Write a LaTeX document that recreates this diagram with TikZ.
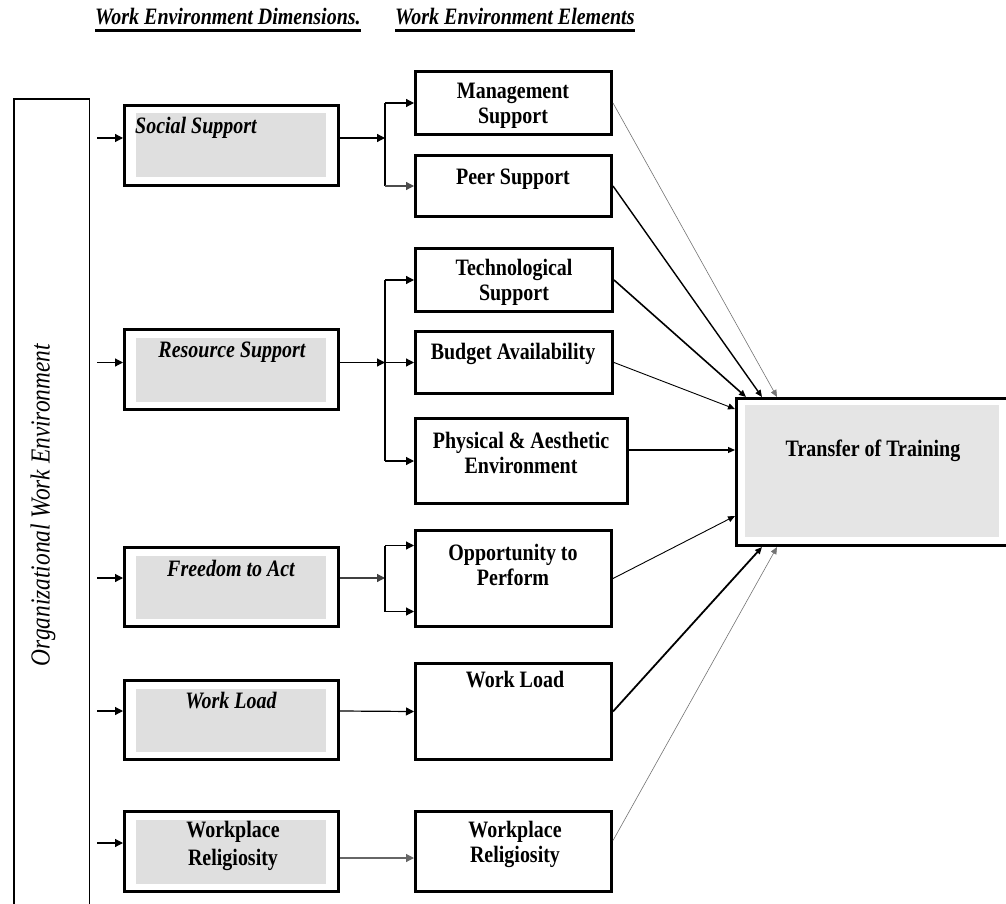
\documentclass[tikz,border=0pt]{standalone}
\usepackage{fontspec}
\setmainfont{Liberation Serif}[FakeStretch=0.85]
\usepackage{tikz}
\usetikzlibrary{arrows.meta}
\usetikzlibrary{calc}
\tikzset{
  txtfont/.style={font=\fontsize{23.5}{25}\selectfont\bfseries},
  dimbox/.style={draw, line width=3pt, minimum width=214pt,
    path picture={\fill[gray!25] ($(path picture bounding box.south west)+(11pt,8pt)$) rectangle ($(path picture bounding box.north east)-(13pt,8pt)$);}},
  elbox/.style={draw, line width=3pt},
  lbl/.style={txtfont, align=center, inner sep=0pt},
  dimlbl/.style={lbl, font=\fontsize{23.5}{25}\selectfont\bfseries\itshape},
  flow/.style={-{Triangle[length=8pt,width=8pt]}, line width=1.2pt},
  into/.style={-{Triangle[length=7pt,width=6pt]}},
}

\begin{document}
\begin{tikzpicture}[x=1pt, y=-1pt]
\useasboundingbox (0,0) rectangle (1006,904);
\node[anchor=base west, inner sep=0, font=\fontsize{23.5}{25}\selectfont\bfseries\itshape] (hdim) at (95,25) {Work Environment Dimensions.};
\node[anchor=base west, inner sep=0, font=\fontsize{23.5}{25}\selectfont\bfseries\itshape] (helem) at (395,25) {Work Environment Elements};
\draw[line width=2.5pt] ([yshift=-5.5pt]hdim.base west) -- ([yshift=-5.5pt]hdim.base east);
\draw[line width=2.5pt] ([yshift=-5.5pt]helem.base west) -- ([yshift=-5.5pt]helem.base east);

\node[draw, line width=1.5pt, minimum width=75.5pt, minimum height=830pt] (owe) at (51.5,514) {};
\node[rotate=90, font=\fontsize{27.5}{30}\selectfont\itshape] (owetxt) at (43,505) {Organizational Work Environment};

\node[dimbox, minimum height=80pt] (social) at (231.5,145.5) {};
\node[dimbox, minimum height=80pt] (resource) at (231.5,369.5) {};
\node[dimbox, minimum height=79pt] (freedom) at (231.5,587) {};
\node[dimbox, minimum height=79pt] (wload) at (231.5,720) {};
\node[dimbox, minimum height=80pt] (relig) at (231.5,851.5) {};

\node[dimlbl, anchor=west] (socialtxt) at (135,128) {Social Support};
\node[dimlbl] (restxt) at (232,352) {Resource Support};
\node[dimlbl] (frtxt) at (231,568) {Freedom to Act};
\node[dimlbl] (wltxt) at (231,701) {Work Load};
\node[lbl] (rltxt) at (233,846) {Workplace\\[3pt]Religiosity};

\node[elbox, minimum width=196pt, minimum height=63pt] (mgmt) at (513.5,103) {};
\node[elbox, minimum width=196pt, minimum height=61pt] (peer) at (513.5,186) {};
\node[elbox, minimum width=197pt, minimum height=63pt] (tech) at (514,280) {};
\node[elbox, minimum width=197pt, minimum height=62pt] (budget) at (514,362.5) {};
\node[elbox, minimum width=212pt, minimum height=85pt] (phys) at (521.5,461) {};
\node[elbox, minimum width=196pt, minimum height=96pt] (opp) at (513.5,578.5) {};
\node[elbox, minimum width=196pt, minimum height=96pt] (wlel) at (513.5,711.5) {};
\node[elbox, minimum width=196pt, minimum height=80pt] (relel) at (513.5,851.5) {};

\node[lbl] (mgmttxt) at (513,106) {Management\\Support};
\node[lbl] (peertxt) at (513,179) {Peer Support};
\node[lbl] (techtxt) at (514,282) {Technological\\Support};
\node[lbl] (budtxt) at (513,354) {Budget Availability};
\node[lbl] (phystxt) at (521,453) {Physical \& Aesthetic\\Environment};
\node[lbl] (opptxt) at (513,565) {Opportunity to\\Perform};
\node[lbl] (wletxt) at (515,680) {Work Load};
\node[lbl] (reletxt) at (515,844) {Workplace\\Religiosity};

\node[draw, line width=3pt, minimum width=274pt, minimum height=147pt,
  path picture={\fill[gray!20] ($(path picture bounding box.south west)+(8.5pt,8.5pt)$) rectangle ($(path picture bounding box.north east)-(11.5pt,6.5pt)$);}] (train) at (873.5,472) {};
\node[lbl] (traintxt) at (873,451) {Transfer of Training};

\foreach \n/\s in {social/7.5, resource/7, freedom/9, wload/9, relig/8.5}
  \draw[flow] ($(\n.west -| owe.east)+(7pt,\s pt)$) -- ($(\n.west)+(0pt,\s pt)$);

\draw[flow] ($(social.east)+(0pt,7.5pt)$) -- ++(45,0) coordinate (sb);
\draw[line width=1.2pt] (sb |- mgmt.west) -- (sb |- peer.west);
\draw[flow] (sb |- mgmt.west) -- (mgmt.west);
\draw[flow, black!70] (sb |- peer.west) -- (peer.west);

\draw[flow] ($(resource.east)+(0pt,7pt)$) -- ++(45,0) coordinate (rb);
\draw[line width=1.2pt] (rb |- tech.west) -- (rb |- phys.west);
\draw[flow] (rb |- tech.west) -- (tech.west);
\draw[flow] (rb |- budget.west) -- (budget.west);
\draw[flow] (rb |- phys.west) -- (phys.west);

\draw[flow, black!75] ($(freedom.east)+(0pt,9pt)$) -- ++(45,0) coordinate (fb);
\draw[line width=1.2pt] ($(fb |- opp.west)+(0pt,33pt)$) -- ($(fb |- opp.west)-(0pt,33pt)$);
\draw[flow] ($(fb |- opp.west)+(0pt,33pt)$) -- ($(opp.west)+(0pt,33pt)$);
\draw[flow] ($(fb |- opp.west)-(0pt,33pt)$) -- ($(opp.west)-(0pt,33pt)$);

\draw[flow] ($(wload.east)+(0pt,9pt)$) -- (wlel.west);
\draw[flow, black!60] ($(relig.east)+(0pt,-6.5pt)$) -- ($(relig.east -| relel.west)+(0pt,-6.5pt)$);

\draw[into, line width=0.6pt, black!55] (mgmt.east) -- ([xshift=42pt]train.north west);
\draw[into, line width=1.4pt] (peer.east) -- ([xshift=27pt]train.north west);
\draw[into, line width=1.6pt] (tech.east) -- ([xshift=11pt]train.north west);
\draw[into, line width=0.9pt] (budget.east) -- ([yshift=-12pt]train.north west);
\draw[into, line width=1.2pt] ($(phys.east)+(0pt,11pt)$) -- ($(phys.east -| train.west)+(0pt,11pt)$);
\draw[into, line width=0.9pt] (opp.east) -- ([yshift=31pt]train.south west);
\draw[into, line width=1.8pt] (wlel.east) -- ([xshift=27pt]train.south west);
\draw[into, line width=0.6pt, black!55] ($(relel.east)+(0pt,11pt)$) -- ([xshift=42pt]train.south west);
\end{tikzpicture}
\end{document}
